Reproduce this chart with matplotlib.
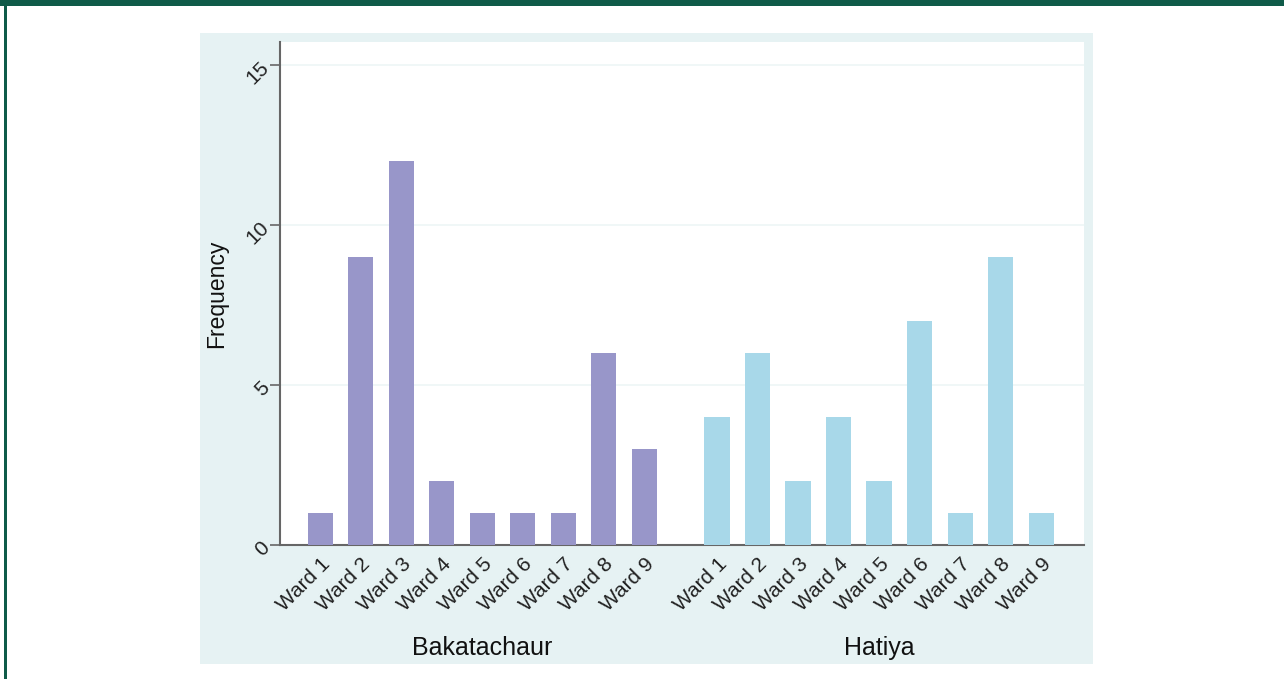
import numpy as np
import matplotlib
matplotlib.use("Agg")
import matplotlib.pyplot as plt
from matplotlib.patches import Rectangle
import matplotlib.transforms as mtransforms

plt.rcParams['font.family'] = ['Liberation Sans', 'DejaVu Sans']

groups = ["Bakatachaur", "Hatiya"]
wards = ["Ward 1", "Ward 2", "Ward 3", "Ward 4", "Ward 5",
         "Ward 6", "Ward 7", "Ward 8", "Ward 9"]
bakatachaur = [1, 9, 12, 2, 1, 1, 1, 6, 3]
hatiya = [4, 6, 2, 4, 2, 7, 1, 9, 1]
yticks = [0, 5, 10, 15]

W, H = 1284, 679
fig = plt.figure(figsize=(W / 100, H / 100), dpi=100)
fig.patch.set_facecolor('white')

# outer green frame (top and left)
fig.patches.append(Rectangle((0, 1 - 6 / H), 1, 6 / H, transform=fig.transFigure,
                             facecolor='#0f5b49', edgecolor='none', zorder=-10))
fig.patches.append(Rectangle((4 / W, 0), 3 / W, 1, transform=fig.transFigure,
                             facecolor='#0f5b49', edgecolor='none', zorder=-10))
# light panel
fig.patches.append(Rectangle((200 / W, 1 - 664 / H), 893 / W, 631 / H,
                             transform=fig.transFigure, facecolor='#e6f2f3',
                             edgecolor='none', zorder=-10))

ax = fig.add_axes([280 / W, 1 - 545 / H, 804 / W, 503 / H])
ax.set_zorder(5)
ax.set_facecolor('white')

n = len(wards)
x1 = np.arange(n)
x2 = np.arange(n) + n + 0.8
bw = 0.62
ax.bar(x1, bakatachaur, width=bw, color='#9896c9', zorder=3)
ax.bar(x2, hatiya, width=bw, color='#a8d8e9', zorder=3)

ax.set_xlim(-0.99, x2[-1] + 1.06)
ax.set_ylim(0, 15.72)

for y in yticks[1:]:
    ax.axhline(y, color='#edf6f6', lw=1.2, zorder=1)

ax.set_yticks(yticks)
ax.set_yticklabels([str(v) for v in yticks], rotation=45, fontsize=15,
                   ha='right', va='center', rotation_mode='anchor', color='#222222')
ax.tick_params(axis='y', length=7, width=1.2, color='#666666', pad=3)

ax.set_xticks(np.concatenate([x1, x2]))
ax.set_xticklabels(wards + wards, rotation=45, fontsize=15, ha='right', va='top',
                   rotation_mode='anchor', color='#222222')
ax.tick_params(axis='x', length=0, pad=7)

for s in ['top', 'right']:
    ax.spines[s].set_visible(False)
for s in ['left', 'bottom']:
    ax.spines[s].set_color('#666666')
    ax.spines[s].set_linewidth(1.5)

ax.set_ylabel('Frequency', fontsize=16.5, color='#111111')
ax.yaxis.set_label_coords(-52 / 804, 0.5)

trans = mtransforms.blended_transform_factory(ax.transData, fig.transFigure)
ax.text(x1.mean(), 1 - 648 / H, groups[0], transform=trans, ha='center', va='center',
        fontsize=18, color='#111111')
ax.text(x2.mean(), 1 - 648 / H, groups[1], transform=trans, ha='center', va='center',
        fontsize=18, color='#111111')

fig.savefig('out.png', dpi=100)
